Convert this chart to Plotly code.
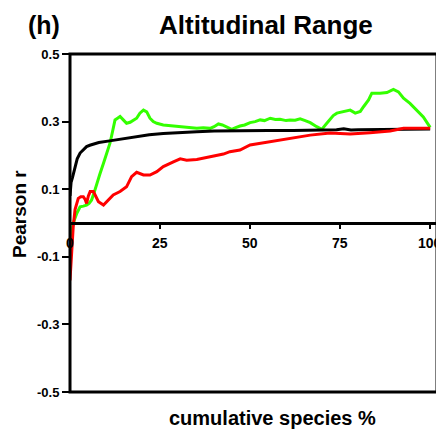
import plotly.graph_objects as go

FONT = "Arial, Liberation Sans, sans-serif"

# cumulative species (%) and Pearson r per series
black_x = [0, 0.3, 0.7, 1.4, 2.0, 2.8, 3.7, 4.6, 5.5, 6.5, 8, 11, 14, 16.7, 19.4,
           22, 25.9, 30, 35.2, 40, 47.2, 55, 62, 70, 74, 76, 78, 80, 85, 90, 95, 100]
black_r = [0.08, 0.12, 0.135, 0.166, 0.19, 0.207, 0.218, 0.226, 0.23, 0.234, 0.238,
           0.243, 0.248, 0.253, 0.258, 0.261, 0.265, 0.268, 0.27, 0.272, 0.274, 0.274,
           0.274, 0.274, 0.276, 0.279, 0.275, 0.276, 0.276, 0.277, 0.277, 0.278]

green_x = [0.3, 0.9, 1.9, 2.8, 3.7, 4.6, 5.3, 6.0, 6.7, 7.4, 8.3, 9.3, 10.2, 11.1, 11.8,
           12.5, 13.2, 13.9, 14.8, 15.7, 16.7, 17.6, 18.5, 19.4, 20.4, 21.3, 22.2, 23.1,
           24.1, 25.9, 28, 30.6, 33, 35.2, 37, 38.9, 40, 41.2, 42.3, 43.5, 44.9, 46, 47.2,
           48.5, 50, 51.4, 52.8, 54, 55.6, 57, 58.3, 60, 61.1, 62.5, 63.9, 65.3, 66.7,
           68.5, 69.9, 71.3, 72.2, 73.1, 74.1, 75.9, 77.8, 79.2, 80.6, 81.5, 82.9, 83.8,
           85, 86.1, 88, 89.8, 91.2, 92.6, 94.4, 96.3, 98.1, 100]
green_r = [-0.04, 0.0, 0.029, 0.048, 0.05, 0.053, 0.058, 0.068, 0.09, 0.117, 0.145, 0.177,
           0.205, 0.236, 0.27, 0.305, 0.31, 0.315, 0.305, 0.295, 0.298, 0.305, 0.31, 0.325,
           0.334, 0.329, 0.31, 0.3, 0.295, 0.29, 0.288, 0.285, 0.283, 0.28, 0.282, 0.28,
           0.285, 0.293, 0.29, 0.285, 0.277, 0.282, 0.287, 0.29, 0.297, 0.3, 0.305, 0.303,
           0.31, 0.306, 0.307, 0.303, 0.305, 0.304, 0.308, 0.303, 0.297, 0.285, 0.277,
           0.295, 0.305, 0.318, 0.325, 0.33, 0.334, 0.325, 0.33, 0.344, 0.364, 0.384,
           0.383, 0.384, 0.386, 0.395, 0.388, 0.369, 0.354, 0.334, 0.314, 0.283]

red_x = [0, 0.2, 0.5, 0.9, 1.4, 1.9, 2.3, 3.0, 3.7, 4.2, 4.6, 5.1, 5.6, 6.5, 7.2, 7.9,
         9.3, 10.6, 12, 13.9, 15.7, 17.1, 18.5, 20.4, 22.2, 24.1, 25.9, 28.7, 30.6, 32.4,
         35.2, 38.9, 42.6, 44.4, 47.2, 50, 55.6, 61.1, 66.7, 72.2, 77.8, 83.3, 88.9,
         92.6, 100]
red_r = [-0.17, -0.13, -0.09, -0.01, 0.04, 0.06, 0.073, 0.078, 0.078, 0.07, 0.058, 0.08,
         0.093, 0.093, 0.08, 0.063, 0.053, 0.068, 0.083, 0.093, 0.107, 0.137, 0.15, 0.142,
         0.142, 0.152, 0.167, 0.181, 0.19, 0.186, 0.188, 0.196, 0.204, 0.211, 0.216,
         0.231, 0.241, 0.251, 0.26, 0.266, 0.263, 0.267, 0.272, 0.28, 0.28]

x_ticks = [0, 25, 50, 75, 100]
y_ticks = [0.5, 0.3, 0.1, -0.1, -0.3, -0.5]

fig = go.Figure()
for xs, ys, color in [(green_x, green_r, "#33FF00"),
                      (black_x, black_r, "#000000"),
                      (red_x, red_r, "#FF0000")]:
    fig.add_trace(go.Scatter(x=xs, y=ys, mode="lines",
                             line={"color": color, "width": 3},
                             showlegend=False))

# the page body has an 8px margin, so the figure is 8px smaller than the window
fig.update_layout(
    width=436, height=424,
    margin={"l": 62, "r": 7, "t": 46, "b": 40},
    paper_bgcolor="white", plot_bgcolor="white",
    font={"family": FONT, "color": "black"},
)
fig.update_xaxes(
    range=[0, 101.9], anchor="free", position=0.5,
    showline=True, linecolor="black", linewidth=3,
    tickmode="array", tickvals=x_ticks, showticklabels=False,
    ticks="outside", ticklen=4, tickwidth=2, tickcolor="black",
    showgrid=False, zeroline=False,
)
fig.update_yaxes(
    range=[-0.5, 0.5],
    showline=False,
    tickmode="array", tickvals=y_ticks, ticktext=[f"{v:.1f}" for v in y_ticks],
    ticks="outside", ticklen=7, tickwidth=2, tickcolor="black",
    tickfont={"size": 13, "family": FONT, "weight": "bold"},
    showgrid=False, zeroline=False,
)
# frame around the plot area
fig.add_shape(type="rect", xref="paper", yref="paper", x0=0, x1=1, y0=0, y1=1,
              line={"color": "black", "width": 3})

# x tick labels sit under the zero line
for v in x_ticks:
    fig.add_annotation(text=str(v), x=v, y=0, xref="x", yref="y", yshift=-20,
                       xanchor="center", yanchor="middle", showarrow=False,
                       font={"size": 14, "family": FONT, "weight": "bold"})

fig.add_annotation(text="Altitudinal Range", xref="paper", yref="paper",
                   x=0.534, y=1.0858, xanchor="center", yanchor="middle", showarrow=False,
                   font={"size": 26, "family": FONT, "weight": "bold"})
fig.add_annotation(text="(h)", xref="paper", yref="paper",
                   x=-0.0722, y=1.0858, xanchor="center", yanchor="middle", showarrow=False,
                   font={"size": 25, "family": FONT, "weight": "bold"})
fig.add_annotation(text="cumulative species %", xref="paper", yref="paper",
                   x=0.553, y=-0.0769, xanchor="center", yanchor="middle", showarrow=False,
                   font={"size": 20, "family": FONT, "weight": "bold"})
fig.add_annotation(text="Pearson r", xref="paper", yref="paper",
                   x=-0.136, y=0.527, xanchor="center", yanchor="middle",
                   textangle=-90, showarrow=False,
                   font={"size": 19, "family": FONT, "weight": "bold"})

fig.write_html("out.html")
